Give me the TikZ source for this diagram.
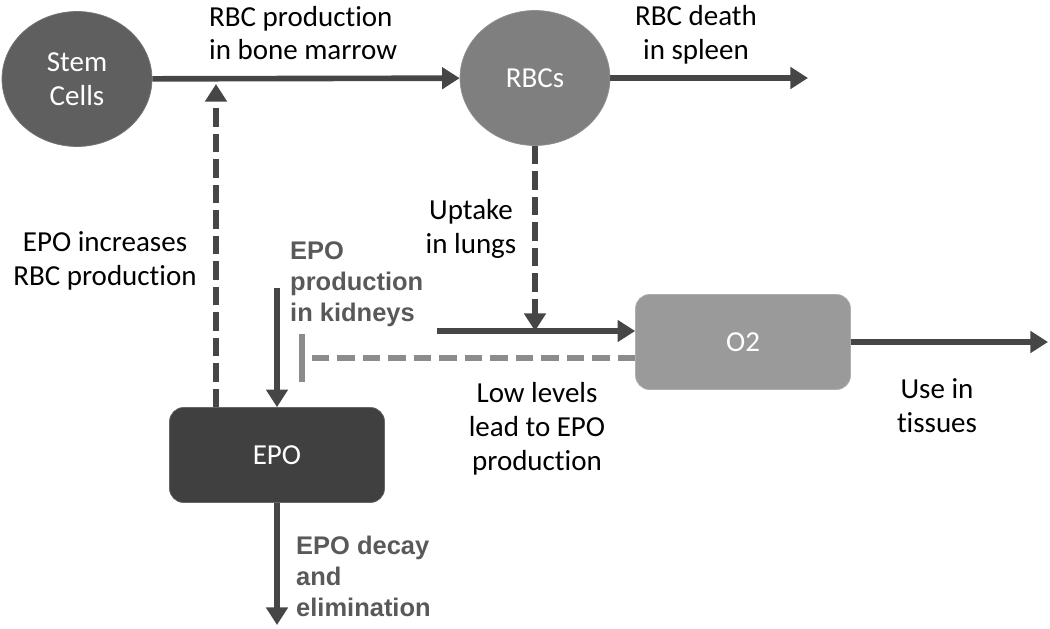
\documentclass[tikz,border=0pt]{standalone}
\usepackage{fontspec}
\setmainfont{Carlito}[Ligatures=NoCommon]
\newfontfamily\labelfont{Liberation Sans}
\usetikzlibrary{arrows.meta,shapes.geometric}

\definecolor{stemgray}{HTML}{5F5F5F}
\definecolor{rbcgray}{HTML}{7F7F7F}
\definecolor{oxgray}{HTML}{9A9A9A}
\definecolor{epogray}{HTML}{404040}
\definecolor{linegray}{HTML}{464646}
\definecolor{inhibgray}{HTML}{8C8C8C}
\definecolor{textgray}{HTML}{595959}

\begin{document}
\begin{tikzpicture}[x=0.02cm,y=-0.02cm,
	cell/.style={ellipse,minimum width=3cm,minimum height=2.7cm,inner sep=0pt,draw=#1!85!white,fill=#1,text=white,align=center,font=\fontsize{16.5}{19.3}\selectfont},
	pool/.style={rectangle,rounded corners=0.28cm,minimum width=4.3cm,minimum height=1.9cm,draw=#1!80!white,fill=#1,text=white,font=\fontsize{16.5}{19.3}\selectfont},
	flowarrow/.style={draw=linegray,line width=3.2pt,-{Triangle[length=10pt,width=12pt]}},
	dashflow/.style={flowarrow,dash pattern=on 10.5pt off 4pt},
	inhibit/.style={draw=inhibgray,line width=3.2pt,dash pattern=on 10pt off 4.5pt,-{Bar[width=27pt,line width=3.2pt]}},
	lbl/.style={align=center,font=\fontsize{16.5}{19.3}\selectfont},
	boldlbl/.style={align=left,text=textgray,font=\labelfont\bfseries\fontsize{14.5}{17.6}\selectfont}]
	
	\useasboundingbox (0,0) rectangle (1050,628);
	
	% Pools
	\node[cell=stemgray] (stem) at (77,79) {Stem\\Cells};
	\node[cell=rbcgray] (rbc) at (535,78) {RBCs};
	\node[pool=oxgray] (o2) at (743,342) {O2};
	\node[pool=epogray] (epo) at (277,455) {EPO};
	
	% Free ends
	\coordinate (death) at (808,78);
	\coordinate (tissue) at (1048,342);
	\coordinate (lungs) at (437,331);
	\coordinate (block) at (299,358);
	\coordinate (kidney) at (277,288);
	\coordinate (boost) at (216,84);
	\coordinate (decay) at (277,625);
	
	% Flows
	\draw[flowarrow] (stem) -- (rbc);
	\draw[flowarrow] (rbc) -- (death);
	\draw[flowarrow] (lungs) -- (lungs -| o2.west);
	\draw[flowarrow] (o2) -- (tissue);
	\draw[flowarrow] (kidney) -- (epo.north);
	\draw[flowarrow] (epo) -- (decay);
	
	% Control
	\draw[dashflow] (rbc.south) -- (rbc.south |- lungs);
	\draw[dashflow] (boost |- epo.north) -- (boost);
	\draw[inhibit] (block -| o2.west) -- (block);
	
	% Labels
	\node[lbl,align=left,anchor=west] (prodlbl) at (203,33) {RBC production\\in bone marrow};
	\node[lbl] (deathlbl) at (696,35) {RBC death\\in spleen};
	\node[lbl] (uptakelbl) at (471,229) {Uptake\\in lungs};
	\node[lbl] (boostlbl) at (105,261) {EPO increases\\RBC production};
	\node[lbl] (lowlbl) at (537,429) {Low levels\\lead to EPO\\production};
	\node[lbl] (uselbl) at (937,406) {Use in\\tissues};
	\node[boldlbl,anchor=west] (kidneylbl) at (284,284) {EPO\\production\\in kidneys};
	\node[boldlbl,anchor=west] (decaylbl) at (290,576) {EPO decay\\and\\elimination};
	
\end{tikzpicture}
\end{document}
